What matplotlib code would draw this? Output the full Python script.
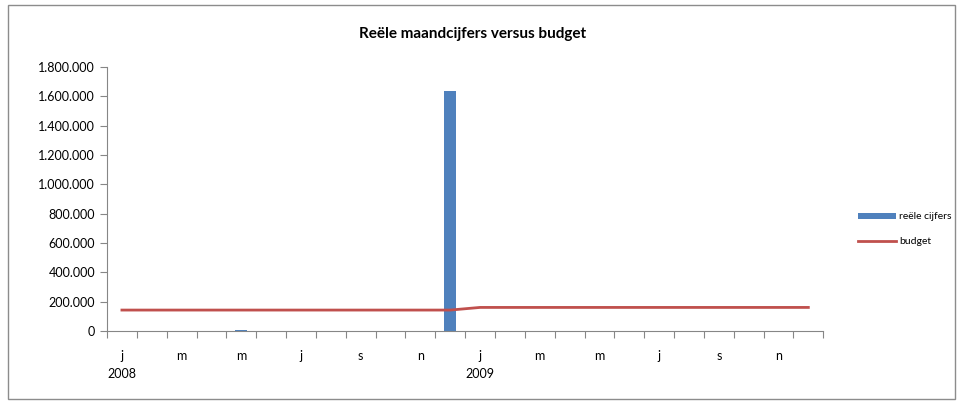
import numpy as np
import matplotlib.pyplot as plt
from matplotlib.patches import Rectangle

plt.rcParams['font.family'] = ['Lato', 'DejaVu Sans']

# data: 24 months, jan 2008 - dec 2009
maanden = ['j', 'f', 'm', 'a', 'm', 'j', 'j', 'a', 's', 'o', 'n', 'd'] * 2
jaren = ['2008', '2009']
reele_cijfers = [0, 0, 0, 0, 8000, 0, 0, 0, 0, 0, 0, 1635000,
                 0, 0, 0, 0, 0, 0, 0, 0, 0, 0, 0, 0]
budget = [142000] * 12 + [160000] * 12

x = np.arange(len(maanden))

fig = plt.figure(figsize=(9.64, 4.04), dpi=100)
fig.patches.append(Rectangle((0.008, 0.012), 0.983, 0.975, transform=fig.transFigure,
                             fill=False, edgecolor='#8c8c8c', linewidth=1))
ax = fig.add_axes([0.111, 0.181, 0.743, 0.653])

staven = ax.bar(x, reele_cijfers, width=0.4, color='#4f81bd', label='reële cijfers', zorder=2)
lijn, = ax.plot(x, budget, color='#c0504d', linewidth=2, label='budget', zorder=3)

ax.set_xlim(-0.5, len(maanden) - 0.5)
ax.set_ylim(0, 1800000)
ax.set_yticks(np.arange(0, 1800001, 200000))
ax.set_yticklabels(['0' if v == 0 else f'{v:,}'.replace(',', '.') for v in range(0, 1800001, 200000)])

# tick marks at category boundaries, labels every second month
ax.set_xticks(np.arange(-0.5, len(maanden), 1))
ax.set_xticklabels([])
ax.set_xticks(x[::2], minor=True)
ax.set_xticklabels(maanden[::2], minor=True)
ax.tick_params(axis='x', which='minor', length=0, pad=14, labelsize=9)
ax.tick_params(axis='x', which='major', length=5, color='#868686')
ax.tick_params(axis='y', length=5, color='#868686', labelsize=9)

for i, jaar in enumerate(jaren):
    ax.text(i * 12 - 0.5, -0.14, jaar, transform=ax.get_xaxis_transform(),
            ha='left', va='top', fontsize=9)

for s in ['top', 'right']:
    ax.spines[s].set_visible(False)
for s in ['left', 'bottom']:
    ax.spines[s].set_color('#868686')

fig.text(0.49, 0.915, 'Reële maandcijfers versus budget', ha='center', va='center',
         fontsize=11, fontweight='bold')

ax.legend([staven, lijn], ['reële cijfers', 'budget'], loc='center left',
          bbox_to_anchor=(1.036, 0.385), frameon=False, fontsize=7.5,
          handlelength=3.6, handleheight=0.5, labelspacing=1.5, handletextpad=0.3)

fig.savefig('out.png', dpi=100)
